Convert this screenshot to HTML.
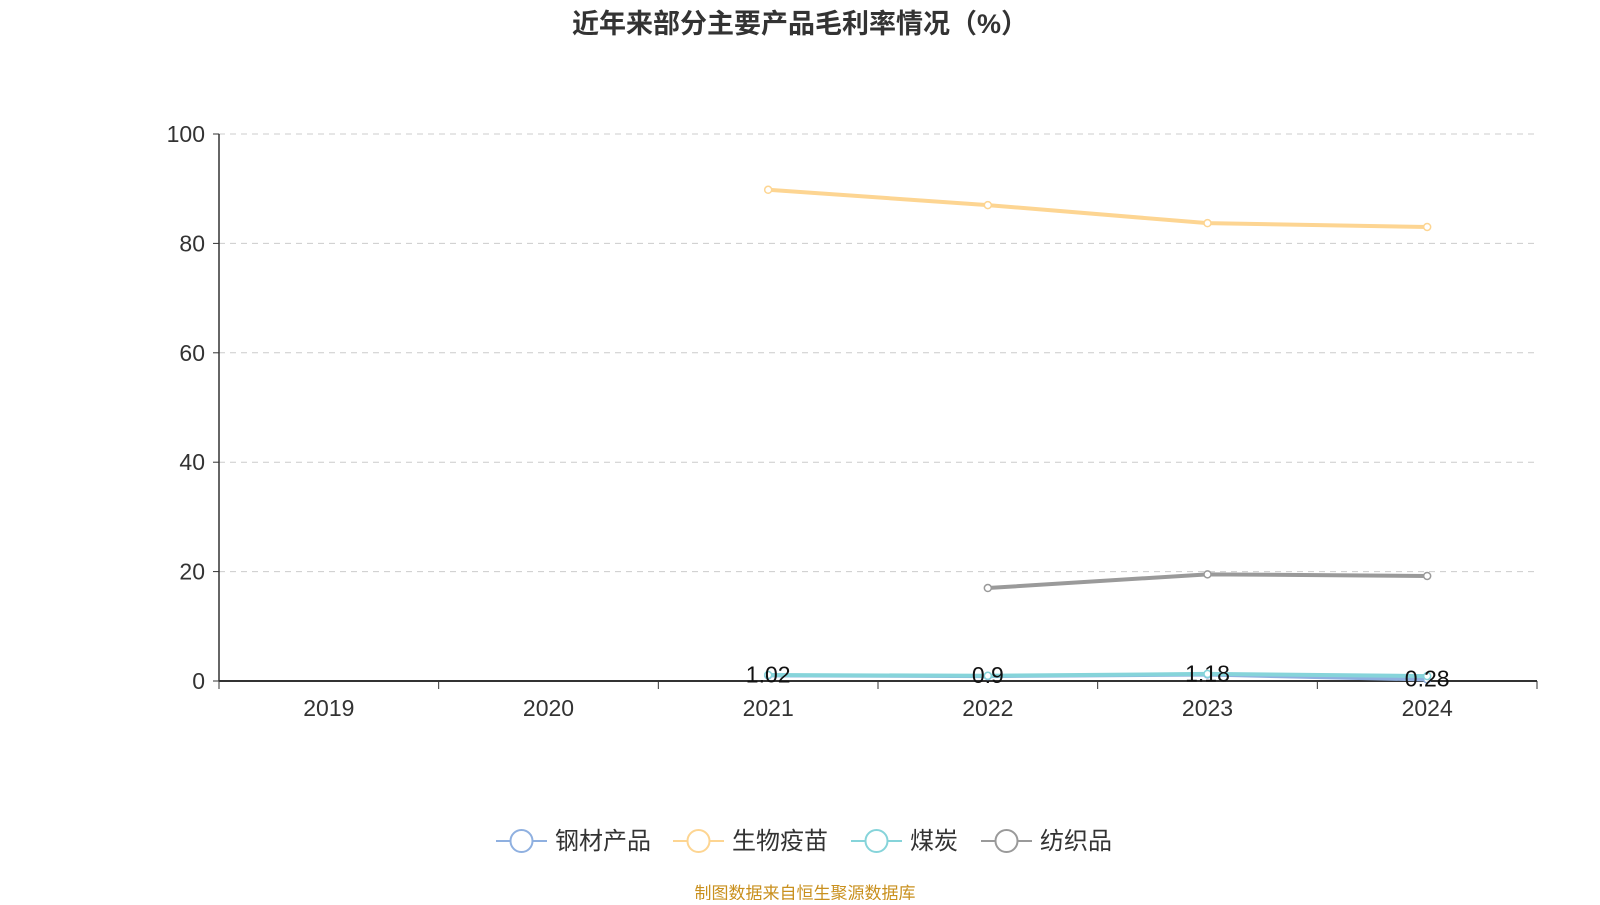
<!DOCTYPE html>
<html><head><meta charset="utf-8"><style>
body{margin:0;background:#fff;width:1600px;height:900px;overflow:hidden;font-family:"Liberation Sans","Noto Sans CJK SC",sans-serif}
</style></head><body>
<svg id="c" width="1600" height="900" xmlns="http://www.w3.org/2000/svg" font-family="Liberation Sans, Noto Sans CJK SC, sans-serif">
<text x="800" y="33" text-anchor="middle" font-size="27" font-weight="bold" fill="#333">近年来部分主要产品毛利率情况（%）</text>
<g id="grid"></g><g id="axes"></g><g id="series"></g>
<g id="legend"></g>
<text x="805" y="899" text-anchor="middle" font-size="17" fill="#c9901e">制图数据来自恒生聚源数据库</text>
</svg>
<script>
const categories=["2019","2020","2021","2022","2023","2024"];
const yTicks=[0,20,40,60,80,100];
const seriesNames=["钢材产品","生物疫苗","煤炭","纺织品"];
const seriesColors=["#8fb0e0","#fdd592","#86d4da","#9a9a9a"];
const steel=[null,null,1.02,0.9,1.18,0.28];
const vaccine=[null,null,89.8,87.0,83.7,83.0];
const coal=[null,null,1.1,0.95,1.3,0.9];
const textile=[null,null,null,17.0,19.5,19.2];
const labels=[null,null,"1.02","0.9","1.18","0.28"];
const NS="http://www.w3.org/2000/svg";
const X0=219,X1=1537,Y0=681,Y1=134;
const bw=(X1-X0)/categories.length;
const xs=i=>X0+bw*(i+0.5);
const ys=v=>Y0-(v/100)*(Y0-Y1);
function mk(t,a,p){const e=document.createElementNS(NS,t);for(const k in a)e.setAttribute(k,a[k]);p.appendChild(e);return e;}
const grid=document.getElementById('grid'),axes=document.getElementById('axes'),ser=document.getElementById('series'),leg=document.getElementById('legend');
yTicks.forEach(t=>{
 if(t>0){const g=mk('line',{x1:X0,x2:X1,y1:ys(t),y2:ys(t),stroke:'#ccc','stroke-dasharray':'6,5'},grid);
 
 }
 mk('line',{x1:X0-6,x2:X0,y1:ys(t),y2:ys(t),stroke:'#333'},axes);
 const l=mk('text',{x:X0-14,y:ys(t)+8,'text-anchor':'end','font-size':23,fill:'#333'},axes);l.textContent=t;
 
 
});
const ya=mk('line',{x1:X0,x2:X0,y1:Y1,y2:Y0,stroke:'#333','stroke-width':1.5},axes);


const xa=mk('line',{x1:X0,x2:X1,y1:Y0,y2:Y0,stroke:'#333','stroke-width':2},axes);


for(let i=0;i<=categories.length;i++)mk('line',{x1:X0+bw*i,x2:X0+bw*i,y1:Y0,y2:Y0+8,stroke:'#333'},axes);
categories.forEach((c,i)=>{const l=mk('text',{x:xs(i),y:716,'text-anchor':'middle','font-size':23,fill:'#333'},axes);l.textContent=c;
 
 });
function draw(data,color,name){
 const g=mk('g',{},ser);
 
 
 let d='';data.forEach((v,i)=>{if(v==null)return;d+=(d?'L':'M')+xs(i)+','+ys(v);});
 mk('path',{d:d,fill:'none',stroke:color,'stroke-width':4},g);
 data.forEach((v,i)=>{if(v==null)return;const p=mk('circle',{cx:xs(i),cy:ys(v),r:3.5,fill:'#fff',stroke:color,'stroke-width':1.5},g);
  
  });
}
draw(steel,seriesColors[0],'steel');draw(vaccine,seriesColors[1],'vaccine');draw(textile,seriesColors[3],'textile');draw(coal,seriesColors[2],'coal');
labels.forEach((t,i)=>{if(!t)return;const l=mk('text',{x:xs(i),y:ys(steel[i])+7,'text-anchor':'middle','font-size':23,fill:'#111'},ser);l.textContent=t;
 
 });
const lx=[496,673,851,981];
seriesNames.forEach((n,i)=>{const g=mk('g',{},leg);
 
 
 mk('line',{x1:lx[i],x2:lx[i]+51,y1:841,y2:841,stroke:seriesColors[i],'stroke-width':2},g);
 mk('circle',{cx:lx[i]+25.5,cy:841,r:11,fill:'#fff',stroke:seriesColors[i],'stroke-width':2},g);
 const t=mk('text',{x:lx[i]+59,y:849,'font-size':24,fill:'#333'},g);t.textContent=n;});
</script>
</body></html>
